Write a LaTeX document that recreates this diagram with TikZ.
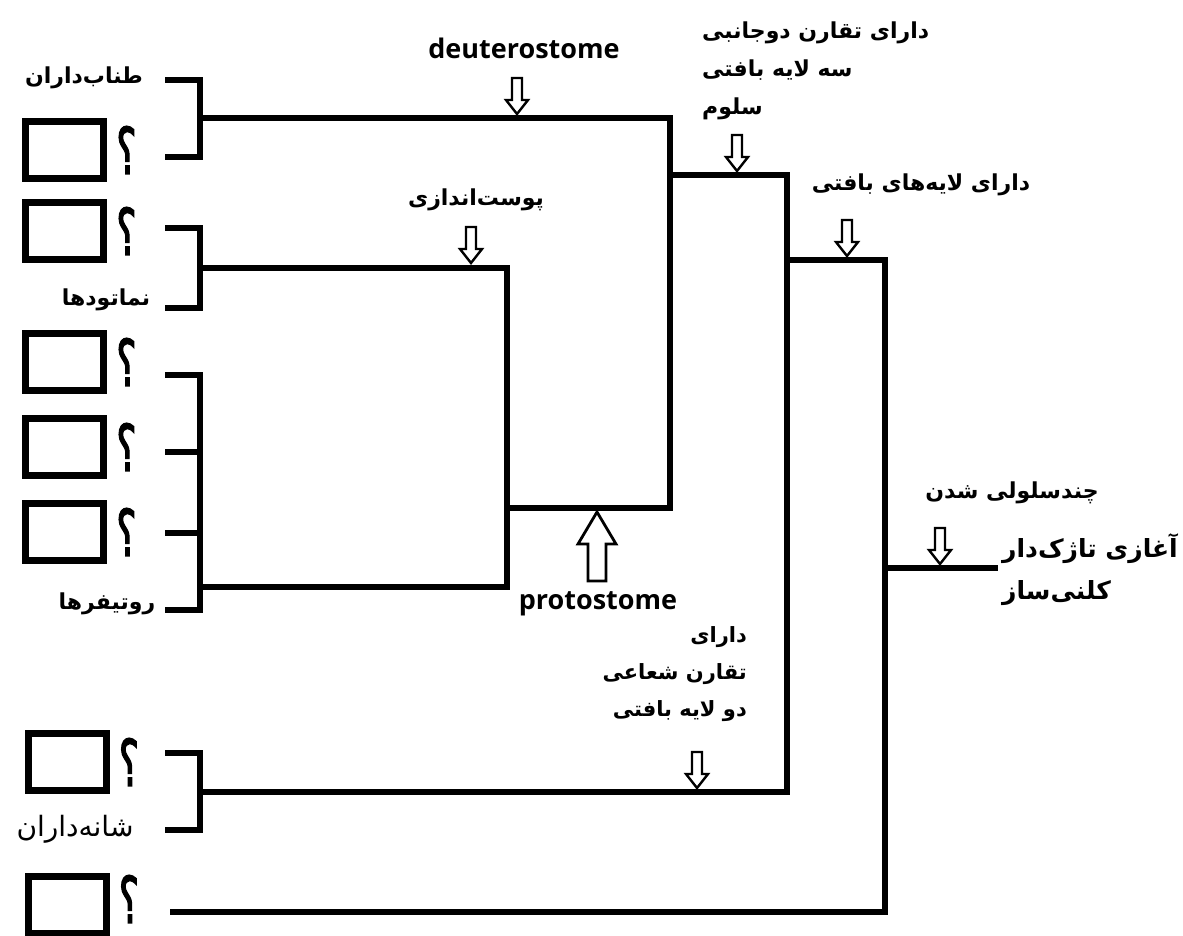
\documentclass[tikz,border=0pt]{standalone}
\usepackage{fontspec}
\setmainfont{Open Sans}
\newfontfamily\fa[Script=Arabic]{DejaVu Sans}
\newfontfamily\qfont[Script=Arabic, FakeBold=2.5]{DejaVu Sans}
\TeXXeTstate=1
\tikzset{
  branch/.style={line width=6.5pt, line join=miter},
  leafbox/.style={draw, line width=7pt, minimum width=78pt, minimum height=57pt, inner sep=0pt},
  qmark/.style={inner sep=0pt},
  falabel/.style={font=\fa\bfseries\fontsize{22}{26}\selectfont, inner sep=0pt},
  enlabel/.style={font=\bfseries\fontsize{27}{30}\selectfont, inner sep=0pt},
  darrow/.pic={\draw[line width=2.4pt, fill=white, line join=miter]
      (-5,-36) -- (5,-36) -- (5,-14) -- (11,-14) -- (0,0) -- (-11,-14) -- (-5,-14) -- cycle;},
  uarrow/.pic={\draw[line width=2.8pt, fill=white, line join=miter]
      (-9,69) -- (9,69) -- (9,32) -- (19,32) -- (0,0) -- (-19,32) -- (-9,32) -- cycle;}
}
\newcommand\askmark{\scalebox{0.6}[1]{\qfont\fontsize{64}{64}\selectfont ؟}}
\begin{document}
\begin{tikzpicture}[x=1pt,y=-1pt]
\useasboundingbox[fill=white] (0,0) rectangle (1183,935);

% leaves: empty answer boxes with question marks
\node[leafbox] (b1) at (64.5,150) {};
\node[leafbox] (b2) at (64.5,231) {};
\node[leafbox] (b3) at (64.5,362) {};
\node[leafbox] (b4) at (64.5,447) {};
\node[leafbox] (b5) at (64.5,532) {};
\node[leafbox] (b6) at (67,762) {};
\node[leafbox] (b7) at (67,905) {};
\foreach \n in {1,...,6} {\node[qmark, anchor=west] (q\n) at ([xshift=9pt]b\n.east) {\askmark};}
\node[qmark, anchor=west] (q7) at ([xshift=9pt,yshift=6pt]b7.east) {\askmark};

% named leaves
\node[falabel] (tanab) at (84,78) {\beginR طناب‌داران\endR};
\node[falabel] (nemat) at (106,300) {\beginR نماتودها\endR};
\node[falabel] (rotif) at (107,604) {\beginR روتیفرها\endR};
\node[font=\fa\fontsize{28}{32}\selectfont, inner sep=0pt] (shane) at (75,829) {\beginR شانه‌داران\endR};

% stubs of the brackets
\coordinate (sA1) at (165,80);  \coordinate (sA2) at (165,157);
\coordinate (sB1) at (165,228); \coordinate (sB2) at (165,308);
\coordinate (sC1) at (165,375); \coordinate (sC2) at (165,452);
\coordinate (sC3) at (165,533); \coordinate (sC4) at (165,610);
\coordinate (sD1) at (165,753); \coordinate (sD2) at (165,830);
\coordinate (sE)  at (170,912);

% internal nodes
\coordinate (jA) at (200,118);
\coordinate (jB) at (200,268);
\coordinate (jC) at (200,587);
\coordinate (jD) at (200,792);
\coordinate (deutTop) at (670,118);
\coordinate (protoR) at (670,508);
\coordinate (protoL) at (507,508);
\coordinate (ecdTop) at (507,268);
\coordinate (ecdBot) at (507,587);
\coordinate (bilL) at (670,175);
\coordinate (bilR) at (787,175);
\coordinate (radBot) at (787,792);
\coordinate (tisL) at (787,260);
\coordinate (tisR) at (885,260);
\coordinate (rootBot) at (885,912);
\coordinate (mulL) at (885,568);
\coordinate (mulR) at (998,568);

% brackets
\draw[branch] (sA1) -| (jA |- sA2) -- (sA2);
\draw[branch] (sB1) -| (jB |- sB2) -- (sB2);
\draw[branch] (sC1) -| (jC |- sC4) -- (sC4);
\draw[branch] (sC2) -- (sC2 -| jC);
\draw[branch] (sC3) -- (sC3 -| jC);
\draw[branch] (sD1) -| (jD |- sD2) -- (sD2);

% tree
\draw[branch] (jA) -- (deutTop) -- (protoR) -- (protoL);
\draw[branch] (jB) -- (ecdTop) -- (ecdBot) -- (jC);
\draw[branch] (bilL) -- (bilR) -- (radBot) -- (jD);
\draw[branch] (tisL) -- (tisR) -- (rootBot) -- (sE);
\draw[branch] (mulL) -- (mulR);

% characters on the branches
\node[enlabel] (deut) at (524,48) {deuterostome};
\pic at (517,114) {darrow};
\node[enlabel] (proto) at (598,604) {protostome};
\pic at (597,512) {uarrow};
\node[falabel] (ecd) at (476,200) {\beginR پوست‌اندازی\endR};
\pic at (471,263) {darrow};
\node[falabel, align=left, anchor=north west, font=\fa\bfseries\fontsize{22}{38}\selectfont] (bil) at (702,22)
  {\beginR دارای تقارن دوجانبی\endR\\ \beginR سه لایه بافتی\endR\\ \beginR سلوم\endR};
\pic at (737,171) {darrow};
\node[falabel] (tis) at (921,185) {\beginR دارای لایه‌های بافتی\endR};
\pic at (847,256) {darrow};
\node[falabel, align=right, anchor=north east, font=\fa\bfseries\fontsize{21}{37}\selectfont] (rad) at (747,626)
  {\beginR دارای\endR\\ \beginR تقارن شعاعی\endR\\ \beginR دو لایه بافتی\endR};
\pic at (697,788) {darrow};
\node[falabel] (mul) at (1012,493) {\beginR چندسلولی شدن\endR};
\pic at (940,564) {darrow};
\node[falabel, align=left, anchor=north west, font=\fa\bfseries\fontsize{25}{42}\selectfont] (flag) at (1002,533)
  {\beginR آغازی تاژک‌دار\endR\\ \beginR کلنی‌ساز\endR};
\end{tikzpicture}
\end{document}
